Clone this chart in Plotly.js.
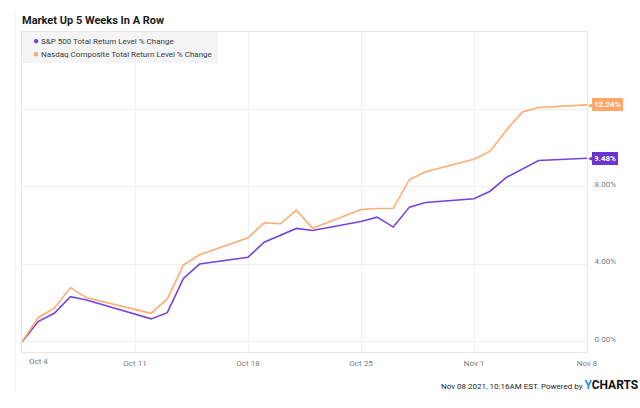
<!DOCTYPE html>
<html>
<head>
<meta charset="utf-8">
<script src="https://cdn.plot.ly/plotly-3.0.1.min.js"></script>
<style>
  html, body { margin: 0; padding: 0; background: #fff; }
  #chart { width: 640px; height: 408px; }
</style>
</head>
<body>
<div id="chart"></div>
<script>
// trading days shown (no point on Oct 11)
const dates = [
  '2021-10-04', '2021-10-05', '2021-10-06', '2021-10-07', '2021-10-08',
  '2021-10-12', '2021-10-13', '2021-10-14', '2021-10-15',
  '2021-10-18', '2021-10-19', '2021-10-20', '2021-10-21', '2021-10-22',
  '2021-10-25', '2021-10-26', '2021-10-27', '2021-10-28', '2021-10-29',
  '2021-11-01', '2021-11-02', '2021-11-03', '2021-11-04', '2021-11-05',
  '2021-11-08'
];
const sp500 = [
  0, 1.05, 1.48, 2.34, 2.16,
  1.19, 1.51, 3.28, 4.02,
  4.37, 5.15, 5.52, 5.86, 5.75,
  6.22, 6.44, 5.93, 6.96, 7.20,
  7.39, 7.78, 8.49, 8.95, 9.37,
  9.48
];
const nasdaq = [
  0, 1.25, 1.74, 2.80, 2.28,
  1.48, 2.22, 3.97, 4.50,
  5.38, 6.15, 6.10, 6.80, 5.87,
  6.84, 6.89, 6.90, 8.38, 8.78,
  9.43, 9.85, 10.93, 11.87, 12.10,
  12.24
];
const seriesNames = [
  'S&P 500 Total Return Level % Change',
  'Nasdaq Composite Total Return Level % Change'
];
const xTickVals = ['2021-10-04', '2021-10-11', '2021-10-18', '2021-10-25', '2021-11-01', '2021-11-08'];
const xTickText = ['', 'Oct 11', 'Oct 18', 'Oct 25', 'Nov 1', 'Nov 8'];
const yTickVals = [0, 4, 8, 12];
// the 12% label is hidden under the Nasdaq end tag in the original
const yTickText = ['0.00%', '4.00%', '8.00%', ''];

const purple = '#7444dc';
const orange = '#ffab72';
const tagPurple = '#6a35cf';
const tagOrange = '#ffa668';
const fontFam = 'Roboto, "Liberation Sans", sans-serif';

// plot box in pixels, used to place the decorations in paper units
const plotW = 640 - 22 - 53;
const plotH = 408 - 32 - 56;

const last = dates.length - 1;

const data = [
  {
    x: dates, y: sp500, mode: 'lines', name: seriesNames[0],
    line: { color: purple, width: 1.6 }
  },
  {
    x: dates, y: nasdaq, mode: 'lines', name: seriesNames[1],
    line: { color: orange, width: 1.6 }
  }
];

function endTag(val, color) {
  return [{
    x: dates[last], y: val, xref: 'x', yref: 'y',
    text: '<b>' + val.toFixed(2) + '%</b>',
    showarrow: false, xanchor: 'left', yanchor: 'middle', xshift: 5,
    bgcolor: color, bordercolor: color, borderpad: 1,
    font: { family: fontFam, size: 8, color: '#fff' }
  }, {
    x: dates[last], y: val, xref: 'x', yref: 'y',
    text: '\u25C0',
    showarrow: false, xanchor: 'left', yanchor: 'middle', xshift: -1,
    font: { family: 'DejaVu Sans', size: 9, color: color }
  }];
}

// legend built from text so the rows sit as tight as in the original
function legendRow(i, color, yPx) {
  return {
    x: 9 / plotW, y: (352 - yPx) / plotH, xref: 'paper', yref: 'paper',
    xanchor: 'left', yanchor: 'middle', showarrow: false,
    text: '<span style="color:' + color + ';font-size:10px">\u25CF</span> ' + seriesNames[i],
    font: { family: fontFam, size: 8, color: '#3a3a3a' }
  };
}

const layout = {
  width: 640,
  height: 408,
  margin: { l: 22, r: 53, t: 32, b: 56 },
  paper_bgcolor: '#fff',
  plot_bgcolor: '#fff',
  font: { family: fontFam, size: 8, color: '#7a7a7a' },
  title: {
    text: '<b>Market Up 5 Weeks In A Row</b>',
    x: 22 / 640, xref: 'container', xanchor: 'left',
    y: 1 - 20 / 408, yref: 'container', yanchor: 'middle',
    font: { family: fontFam, size: 11, color: '#1a1a1a' }
  },
  showlegend: false,
  xaxis: {
    type: 'date',
    range: ['2021-10-04', '2021-11-08'],
    tickvals: xTickVals,
    ticktext: xTickText,
    showgrid: true, gridcolor: '#f0f0f0', gridwidth: 1,
    showline: true, linecolor: '#e8e8e8', mirror: true,
    ticks: '', ticklabelstandoff: 3,
    tickfont: { family: fontFam, size: 8, color: '#7a7a7a' },
    zeroline: false, fixedrange: true
  },
  yaxis: {
    range: [-0.52, 16],
    side: 'right',
    tickvals: yTickVals,
    ticktext: yTickText,
    showgrid: true, gridcolor: '#eeeeee', gridwidth: 1,
    showline: true, linecolor: '#e8e8e8', mirror: true,
    ticks: '', ticklabelstandoff: 5, ticklabelshift: -3,
    tickfont: { family: fontFam, size: 8, color: '#7a7a7a' },
    zeroline: false, fixedrange: true
  },
  shapes: [{
    type: 'line', xref: 'paper', yref: 'paper',
    x0: -7 / plotW, x1: -7 / plotW, y0: -40 / plotH, y1: 342 / plotH,
    line: { color: '#eeeeee', width: 1 }
  }, {
    type: 'rect', xref: 'paper', yref: 'paper', layer: 'below',
    x0: 0, x1: 196 / plotW, y0: (352 - 63) / plotH, y1: 1,
    fillcolor: '#f4f4f4', line: { width: 0 }
  }],
  annotations: [].concat(
    endTag(nasdaq[last], tagOrange),
    endTag(sp500[last], tagPurple),
    [legendRow(0, purple, 41), legendRow(1, orange, 53)],
    [{
      // first date label sits right of its gridline, as in the original
      x: xTickVals[0], y: 0, xref: 'x', yref: 'paper',
      text: 'Oct 4', showarrow: false,
      xanchor: 'left', yanchor: 'top', xshift: 5, yshift: -3,
      font: { family: fontFam, size: 8, color: '#7a7a7a' }
    }, {
      x: (640 - 22) / plotW, y: (352 - 385) / plotH, xref: 'paper', yref: 'paper',
      yanchor: 'middle', xanchor: 'right',
      text: 'Nov 08 2021, 10:16AM EST. Powered by ' +
        '<b><span style="font-size:12px;color:#1e8fff">Y</span>' +
        '<span style="font-size:12px;color:#111">CHARTS</span></b>',
      showarrow: false,
      font: { family: fontFam, size: 8, color: '#222' }
    }]
  )
};

Plotly.newPlot('chart', data, layout, { displayModeBar: false, staticPlot: true });
</script>
</body>
</html>
